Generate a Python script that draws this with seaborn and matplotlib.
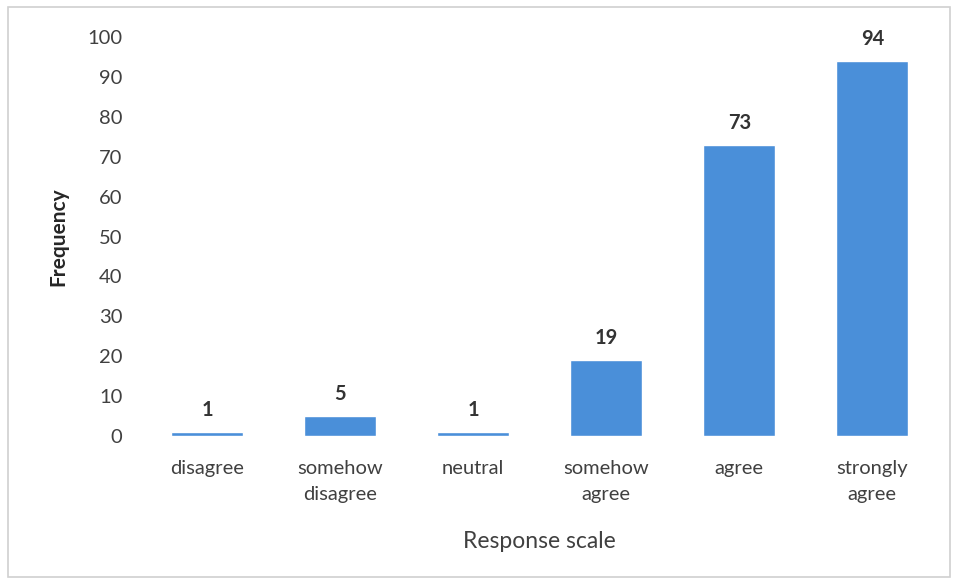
import matplotlib
matplotlib.use("Agg")
import matplotlib.pyplot as plt
from matplotlib.patches import Rectangle
import seaborn as sns
import pandas as pd

categories = ["disagree", "somehow\ndisagree", "neutral", "somehow\nagree", "agree", "strongly\nagree"]
frequency = [1, 5, 1, 19, 73, 94]
y_ticks = [0, 10, 20, 30, 40, 50, 60, 70, 80, 90, 100]

sns.set_theme(style="white")
plt.rcParams["font.family"] = ["Lato", "DejaVu Sans"]

df = pd.DataFrame({"response": categories, "frequency": frequency})

fig = plt.figure(figsize=(9.58, 5.81), dpi=100)
ax = fig.add_axes([0.1467, 0.2496, 0.8333, 0.6864])

sns.barplot(data=df, x="response", y="frequency", color="#4A8FD9",
            saturation=1, width=0.54, ax=ax)

ax.set_ylim(0, 100)
ax.set_xlim(-0.5, len(categories) - 0.5)
ax.set_yticks(y_ticks)
ax.tick_params(axis="y", labelsize=14.5, colors="#404040", length=0, pad=13)
ax.tick_params(axis="x", labelsize=14.5, colors="#404040", length=0, pad=17)
for t in ax.get_xticklabels():
    t.set_linespacing(1.7)
for sp in ax.spines.values():
    sp.set_visible(False)

for i, v in enumerate(frequency):
    ax.text(i, v + 3, str(v), ha="center", va="bottom", fontsize=14.5,
            fontweight="bold", color="#333333")

ax.set_ylabel("Frequency", fontsize=15, fontweight="bold", color="#262626", labelpad=14)
ax.set_xlabel("Response scale", fontsize=16.5, color="#404040", labelpad=20)

fig.patches.append(Rectangle((8 / 958, 4 / 581), 942 / 958, 570 / 581,
                             transform=fig.transFigure, fill=False,
                             edgecolor="#d0d0d0", linewidth=1.2))

fig.savefig("out.png", dpi=100)
